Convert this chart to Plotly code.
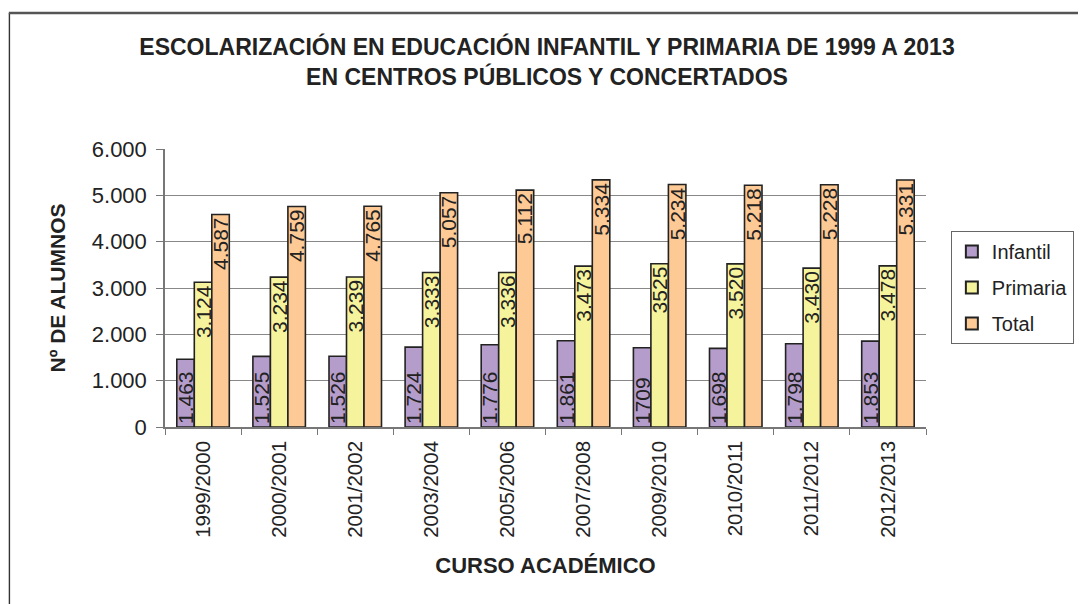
import plotly.graph_objects as go

cursos = ["1999/2000", "2000/2001", "2001/2002", "2003/2004", "2005/2006",
          "2007/2008", "2009/2010", "2010/2011", "2011/2012", "2012/2013"]
infantil = [1463, 1525, 1526, 1724, 1776, 1861, 1709, 1698, 1798, 1853]
primaria = [3124, 3234, 3239, 3333, 3336, 3473, 3525, 3520, 3430, 3478]
total = [4587, 4759, 4765, 5057, 5112, 5334, 5234, 5218, 5228, 5331]
infantil_txt = ["1.463", "1.525", "1.526", "1.724", "1.776", "1.861", "1709", "1.698", "1.798", "1.853"]
primaria_txt = ["3.124", "3.234", "3.239", "3.333", "3.336", "3.473", "3525", "3.520", "3.430", "3.478"]
total_txt = ["4.587", "4.759", "4.765", "5.057", "5.112", "5.334", "5.234", "5.218", "5.228", "5.331"]

FONT = "Liberation Sans, Arial, sans-serif"
# page body has an 8px margin, so the figure is drawn 8px in from the window corner
OFF = 8
W, H = 1086 - OFF, 604 - OFF
L, R, T, B = 165 - OFF, 156, 149 - OFF, 177
PW, PH = W - L - R, H - T - B


def px(xp):
    return (xp - OFF - L) / PW


def py(yp):
    return (H - B - (yp - OFF)) / PH


fig = go.Figure()
series = [
    ("Infantil", infantil, infantil_txt, "#B59DCB", "start"),
    ("Primaria", primaria, primaria_txt, "#F6F39D", "end"),
    ("Total", total, total_txt, "#FDC995", "end"),
]
for name, vals, txt, col, anchor in series:
    fig.add_trace(go.Bar(
        name=name, legendgroup=name, x=cursos, y=vals, text=txt,
        textposition="inside", insidetextanchor=anchor, textangle=-90,
        constraintext="none", cliponaxis=False,
        textfont=dict(family=FONT, size=21, color="#222222"),
        marker=dict(color=col, line=dict(color="#222222", width=1.6)),
    ))

fig.update_layout(
    width=W, height=H,
    margin=dict(l=L, r=R, t=T, b=B),
    paper_bgcolor="white", plot_bgcolor="white",
    barmode="group", bargap=0.31, bargroupgap=0,
    separators=",.",
    font=dict(family=FONT, color="#222222"),
    showlegend=True,
    legend=dict(
        x=px(955), y=py(231),
        xanchor="left", yanchor="top",
        bgcolor="white", bordercolor="#666666", borderwidth=1,
        font=dict(family=FONT, size=20, color="#222222"),
        itemsizing="constant", itemwidth=30, tracegroupgap=7,
    ),
    title=dict(
        text="ESCOLARIZACIÓN EN EDUCACIÓN INFANTIL Y PRIMARIA DE 1999 A 2013<br>EN CENTROS PÚBLICOS Y CONCERTADOS",
        x=(547 - OFF) / W, xanchor="center", y=1 - (55 - OFF) / H, yanchor="middle",
        font=dict(family=FONT, size=23, color="#222222", weight="bold"),
    ),
    xaxis=dict(
        tickangle=-90, tickfont=dict(family=FONT, size=20.5, color="#222222"),
        showline=True, linecolor="#777777", linewidth=1.5,
        ticks="outside", tickson="boundaries", ticklen=6, tickcolor="#777777",
        ticklabelstandoff=4,
        showgrid=False,
        title=dict(text="<b>CURSO ACADÉMICO</b>", font=dict(family=FONT, size=22, color="#222222"), standoff=21),
    ),
    yaxis=dict(
        range=[0, 6000], dtick=1000, tickformat=",",
        tickfont=dict(family=FONT, size=22, color="#222222"),
        showline=True, linecolor="#777777", linewidth=1.5,
        ticks="outside", ticklen=7, tickcolor="#777777",
        ticklabelstandoff=5,
        showgrid=True, gridcolor="#888888", gridwidth=1,
        zeroline=False,
        title=dict(text="<b>Nº DE ALUMNOS</b>", font=dict(family=FONT, size=21, color="#222222"), standoff=20),
    ),
)

# outer frame (left and top edges)
fig.add_shape(type="line", xref="paper", yref="paper",
              x0=(0.6 - L) / PW, x1=(0.6 - L) / PW,
              y0=py(13), y1=-B / PH,
              line=dict(color="#333333", width=1.4))
fig.add_shape(type="line", xref="paper", yref="paper",
              x0=(0 - L) / PW, x1=(W - L) / PW,
              y0=py(13), y1=py(13),
              line=dict(color="#555555", width=2.5))

fig.write_html("out.html")
